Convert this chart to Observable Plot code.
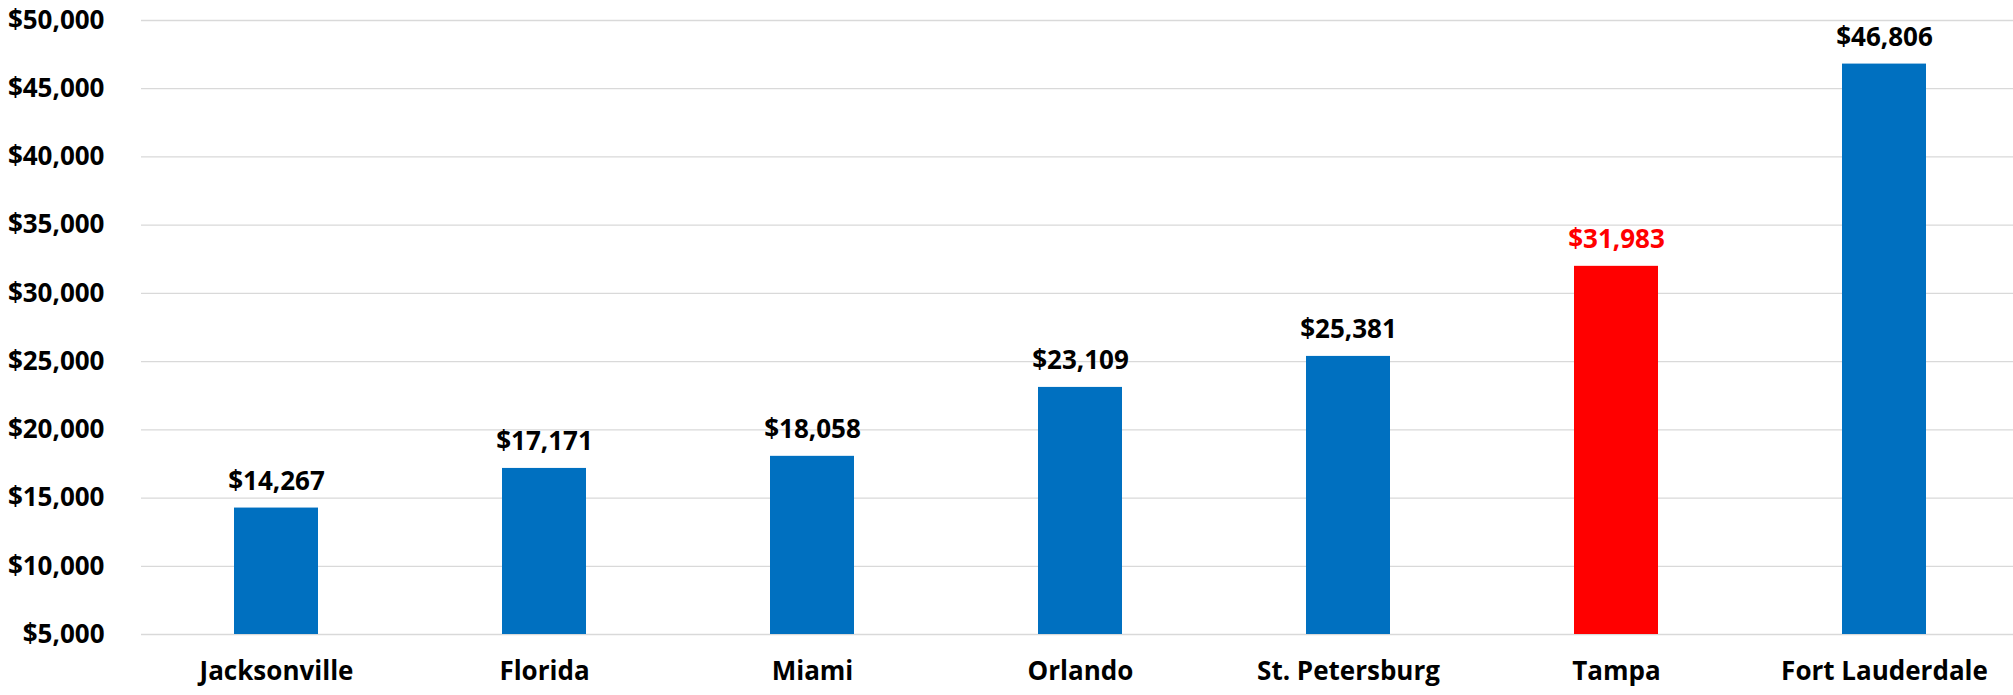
<!DOCTYPE html>
<html>
<head>
<meta charset="utf-8">
<script src="https://cdn.jsdelivr.net/npm/d3@7"></script>
<script src="https://cdn.jsdelivr.net/npm/@observablehq/plot@0.6"></script>
<style>
  html, body { margin: 0; padding: 0; background: #fff; overflow: hidden; }
  #chart svg { display: block; }
</style>
</head>
<body>
<div id="chart"></div>
<script>
const cities = ["Jacksonville", "Florida", "Miami", "Orlando", "St. Petersburg", "Tampa", "Fort Lauderdale"];
const values = [14267, 17171, 18058, 23109, 25381, 31983, 46806];
const highlight = ["Tampa"];
const yTicks = [5000, 10000, 15000, 20000, 25000, 30000, 35000, 40000, 45000, 50000];

const data = cities.map((c, i) => ({city: c, value: values[i], hi: highlight.includes(c)}));
const fmt = d3.format("$,");

const chart = Plot.plot({
  width: 2013,
  height: 695,
  marginLeft: 141,
  marginRight: -6,
  marginTop: 20,
  marginBottom: 61,
  style: {fontFamily: "'Open Sans', sans-serif", fontSize: "26px", fontWeight: "bold", color: "#000", background: "#fff"},
  x: {domain: cities, paddingInner: 0.687, paddingOuter: 0.3435, label: null},
  y: {domain: [5000, 50000], label: null},
  marks: [
    Plot.gridY(yTicks, {stroke: "#D9D9D9", strokeOpacity: 1, strokeWidth: 1.3}),
    Plot.axisY(yTicks, {tickSize: 0, tickPadding: 37, tickFormat: fmt, fontSize: 26, fontWeight: "bold", fill: "#000", label: null}),
    Plot.axisX({tickSize: 0, tickPadding: 27, fontSize: 26, fontWeight: "bold", fill: "#000", label: null}),
    Plot.barY(data, {x: "city", y1: 5000, y2: "value", fill: d => d.hi ? "#FF0000" : "#0070C0"}),
    Plot.text(data, {x: "city", y: "value", text: d => fmt(d.value), lineAnchor: "bottom", dy: -18, fontSize: 26, fontWeight: "bold", fill: d => d.hi ? "#FF0000" : "#000"})
  ]
});
document.getElementById("chart").appendChild(chart);
</script>
</body>
</html>
